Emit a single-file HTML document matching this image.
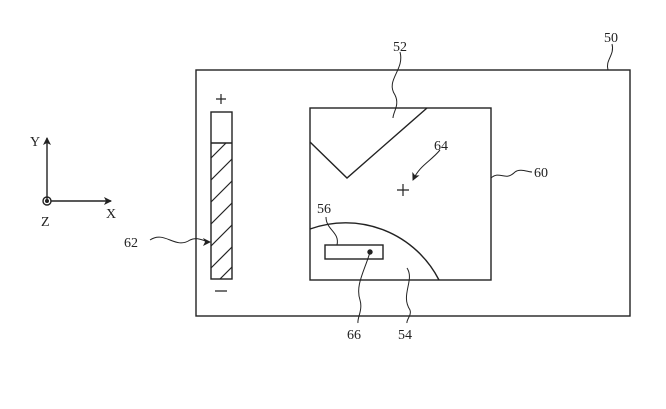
<!DOCTYPE html>
<html><head><style>body{margin:0;background:#fff}svg{display:block}text{font-family:"Liberation Serif",serif;font-size:14px;fill:#222}</style></head><body>
<svg width="666" height="409" viewBox="0 0 666 409" xmlns="http://www.w3.org/2000/svg">
<defs><marker id="a" markerWidth="8" markerHeight="8" refX="7" refY="4" orient="auto" markerUnits="userSpaceOnUse"><path d="M0,0 L8,4 L0,8 L2,4z" fill="#222"/></marker></defs>
<g fill="none" stroke="#222" stroke-width="1.4">
<rect x="196" y="70" width="434" height="246"/>
<rect x="310" y="108" width="181" height="172"/>
<rect x="211" y="112" width="21" height="167"/>
<line x1="211" y1="143" x2="232" y2="143"/>
<g stroke-width="1.2">
<line x1="211" y1="158" x2="226" y2="143"/><line x1="211" y1="180" x2="232" y2="159"/><line x1="211" y1="202" x2="232" y2="181"/><line x1="211" y1="224" x2="232" y2="203"/><line x1="211" y1="246" x2="232" y2="225"/><line x1="211" y1="268" x2="232" y2="247"/><line x1="220" y1="279" x2="232" y2="267"/>
</g>
<polyline points="310,142 347,178 427,108"/>
<path d="M310,229 A105 105 0 0 1 439,280"/>
<rect x="325" y="245" width="58" height="14"/>
<circle cx="370" cy="252" r="2" fill="#222"/>
<path d="M216,99h10M221,94v10M215,291h12M397,190h12M403,184v12" stroke-width="1.2"/>
<path d="M47,201V138" marker-end="url(#a)"/><path d="M51,201H111" marker-end="url(#a)"/>
<circle cx="47" cy="201" r="4"/><circle cx="47" cy="201" r="1.3" fill="#222"/>
<g stroke-width="1">
<path d="M400,52 C405,70 385,80 395,95 C400,105 393,112 393,118"/>
<path d="M612,44 C615,55 605,60 608,70"/>
<path d="M440,150 C430,162 420,165 413,180" marker-end="url(#a)"/>
<path d="M491,178 C500,170 505,182 515,172 C520,168 528,172 532,172"/>
<path d="M150,240 C165,230 175,250 190,240 C198,236 205,242 210,242" marker-end="url(#a)"/>
<path d="M326,217 C326,230 340,232 337,245"/>
<path d="M370,252 C365,270 355,285 360,300 C363,310 357,318 358,323"/>
<path d="M407,268 C415,280 400,295 410,310 C412,315 406,320 407,323"/>
</g>
</g>
<text x="393" y="51">52</text><text x="604" y="42">50</text><text x="434" y="150">64</text><text x="534" y="177">60</text><text x="124" y="247">62</text><text x="317" y="213">56</text><text x="347" y="339">66</text><text x="398" y="339">54</text>
<text x="30" y="146">Y</text><text x="106" y="218">X</text><text x="41" y="226">Z</text>
</svg></body></html>
